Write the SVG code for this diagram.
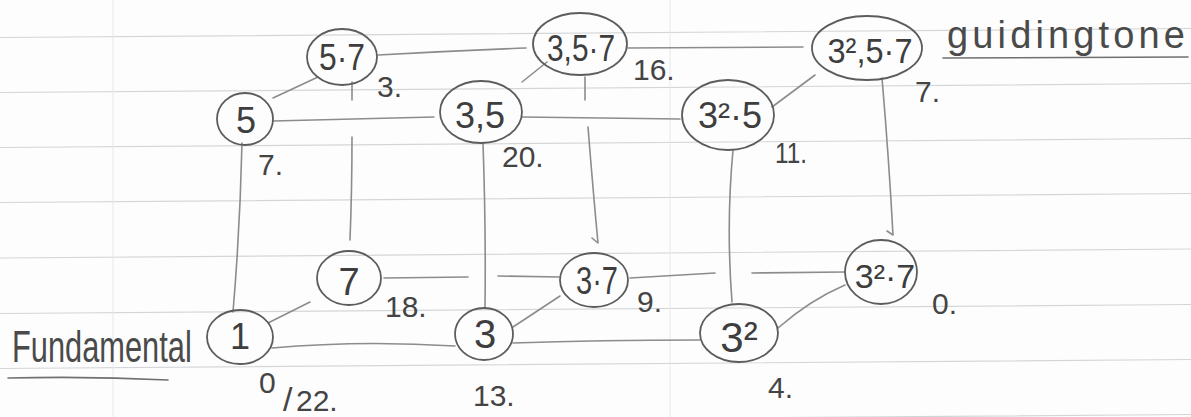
<svg xmlns="http://www.w3.org/2000/svg" width="1191" height="417" viewBox="0 0 1191 417">
<style>
.rule{stroke:#d3d6d9;stroke-width:1.2;fill:none}
.vrule{stroke:#e6e8ea;stroke-width:1;fill:none}
.node ellipse{fill:none;stroke:#5c5c5c;stroke-width:1.8}
.nt{font-family:"Liberation Sans",Arial,sans-serif;fill:#3e3e3e;text-anchor:middle}
.lbl{font-family:"Liberation Sans",Arial,sans-serif;fill:#444;font-size:30px}
.edge{fill:none;stroke:#8c8c8c;stroke-width:1.6;stroke-linecap:round}
.ann{font-family:"Liberation Sans",Arial,sans-serif;fill:#4a4a4a}
.uline{fill:none;stroke:#707070;stroke-width:1.6;stroke-linecap:round}
</style>
<rect width="1191" height="417" fill="#fdfdfd"/>
<g id="paper">
<path class="rule" d="M0,37.5 L1191,28.5 M0,92.5 L1191,83.5 M0,147.5 L1191,138.5 M0,202.5 L1191,193.5 M0,258 L1191,249 M0,313.5 L1191,304.5 M0,368.5 L1191,359.5 M0,423.5 L1191,414.5"/>
<path class="vrule" d="M113,0 L113,417 M670,0 L670,417"/>
</g>
<g id="connectors">
<path class="edge" d="M378,55 Q450,51 526,48"/>
<path class="edge" d="M628,48 L803,47"/>
<path class="edge" d="M273,121 Q350,119 434,117"/>
<path class="edge" d="M522,117 L680,119"/>
<path class="edge" d="M273,98 L318,77"/>
<path class="edge" d="M522,82 L547,62"/>
<path class="edge" d="M772,107 L815,75"/>
<path class="edge" d="M242,143 Q240,230 233,312"/>
<path class="edge" d="M352,82 L352,100 M352,137 Q352,190 350,240"/>
<path class="edge" d="M483,143 Q486,230 485,308"/>
<path class="edge" d="M585,77 L585,100 M588,127 Q593,190 598,243 M592,238 L598,243"/>
<path class="edge" d="M733,150 Q726,225 732,302"/>
<path class="edge" d="M882,78 Q889,160 893,235 M887,231 L893,235"/>
<path class="edge" d="M384,278 L468,277 M498,276 L560,277"/>
<path class="edge" d="M630,278 L715,273 M752,273 L845,272"/>
<path class="edge" d="M272,348 Q360,340 455,346"/>
<path class="edge" d="M513,343 Q600,340 700,340"/>
<path class="edge" d="M268,323 L310,302"/>
<path class="edge" d="M513,327 L560,296"/>
<path class="edge" d="M778,328 Q810,300 845,285"/>
</g>
<g id="node-5" class="node">
<ellipse cx="245" cy="119" rx="28" ry="26"/>
<text class="nt" x="246" y="133" font-size="36">5</text>
<text class="lbl" x="258" y="175" font-size="32">7.</text>
</g>
<g id="node-5-7" class="node">
<ellipse cx="342" cy="57" rx="35" ry="28"/>
<text class="nt" x="342" y="70" font-size="36" textLength="46" lengthAdjust="spacingAndGlyphs">5·7</text>
<text class="lbl" x="377" y="97">3.</text>
</g>
<g id="node-3-5-7" class="node">
<ellipse cx="580" cy="44" rx="47" ry="31"/>
<text class="nt" x="581" y="61" font-size="36" textLength="68" lengthAdjust="spacingAndGlyphs">3,5·7</text>
<text class="lbl" x="633" y="80" font-size="26">16.</text>
</g>
<g id="node-3-5" class="node">
<ellipse cx="481" cy="112" rx="41" ry="31"/>
<text class="nt" x="480" y="128" font-size="36">3,5</text>
<text class="lbl" x="502" y="167" font-size="32">20.</text>
</g>
<g id="node-3sq-5" class="node">
<ellipse cx="728" cy="115" rx="46" ry="35"/>
<text class="nt" x="730" y="128" font-size="36">3²·5</text>
<text class="lbl" x="775" y="163" font-size="28" textLength="32" lengthAdjust="spacingAndGlyphs">11.</text>
</g>
<g id="node-3sq-5-7" class="node">
<ellipse cx="867" cy="48" rx="55" ry="32"/>
<text class="nt" x="870" y="63" font-size="35" textLength="85" lengthAdjust="spacingAndGlyphs">3²,5·7</text>
<text class="lbl" x="915" y="102" font-size="32">7.</text>
</g>
<g id="node-7" class="node">
<ellipse cx="349" cy="278" rx="32" ry="27"/>
<text class="nt" x="349" y="295" font-size="38">7</text>
<text class="lbl" x="385" y="317" font-size="26">18.</text>
</g>
<g id="node-3-7" class="node">
<ellipse cx="594" cy="280" rx="34" ry="27"/>
<text class="nt" x="597" y="294" font-size="38" textLength="42" lengthAdjust="spacingAndGlyphs">3·7</text>
<text class="lbl" x="637" y="312" font-size="28">9.</text>
</g>
<g id="node-3sq-7" class="node">
<ellipse cx="881" cy="272" rx="36" ry="32"/>
<text class="nt" x="885" y="288" font-size="34">3²·7</text>
<text class="lbl" x="932" y="314" font-size="30">0.</text>
</g>
<g id="node-1" class="node">
<ellipse cx="240" cy="337" rx="33" ry="27"/>
<text class="nt" x="240" y="349" font-size="36">1</text>
<text class="lbl" x="259" y="393" font-size="30">0<tspan x="283" y="411" font-size="34">/</tspan><tspan x="296" y="411" font-size="30">22.</tspan></text>
</g>
<g id="node-3" class="node">
<ellipse cx="484" cy="334" rx="29" ry="26"/>
<text class="nt" x="485" y="348" font-size="40">3</text>
<text class="lbl" x="473" y="406" font-size="32">13.</text>
</g>
<g id="node-3sq" class="node">
<ellipse cx="739" cy="333" rx="39" ry="29"/>
<text class="nt" x="739" y="352" font-size="42">3²</text>
<text class="lbl" x="768" y="398">4.</text>
</g>
<g id="annotation-fundamental">
<text class="ann" transform="translate(12,362) scale(0.7,1)" x="0" y="0" font-size="44">Fundamental</text>
<path class="uline" d="M8,378 Q90,376 168,380"/>
</g>
<g id="annotation-guidingtone">
<text class="ann" x="947" y="48" font-size="38" textLength="238" lengthAdjust="spacing">guidingtone</text>
<path class="uline" d="M943,58 L1188,57"/>
</g>
</svg>
